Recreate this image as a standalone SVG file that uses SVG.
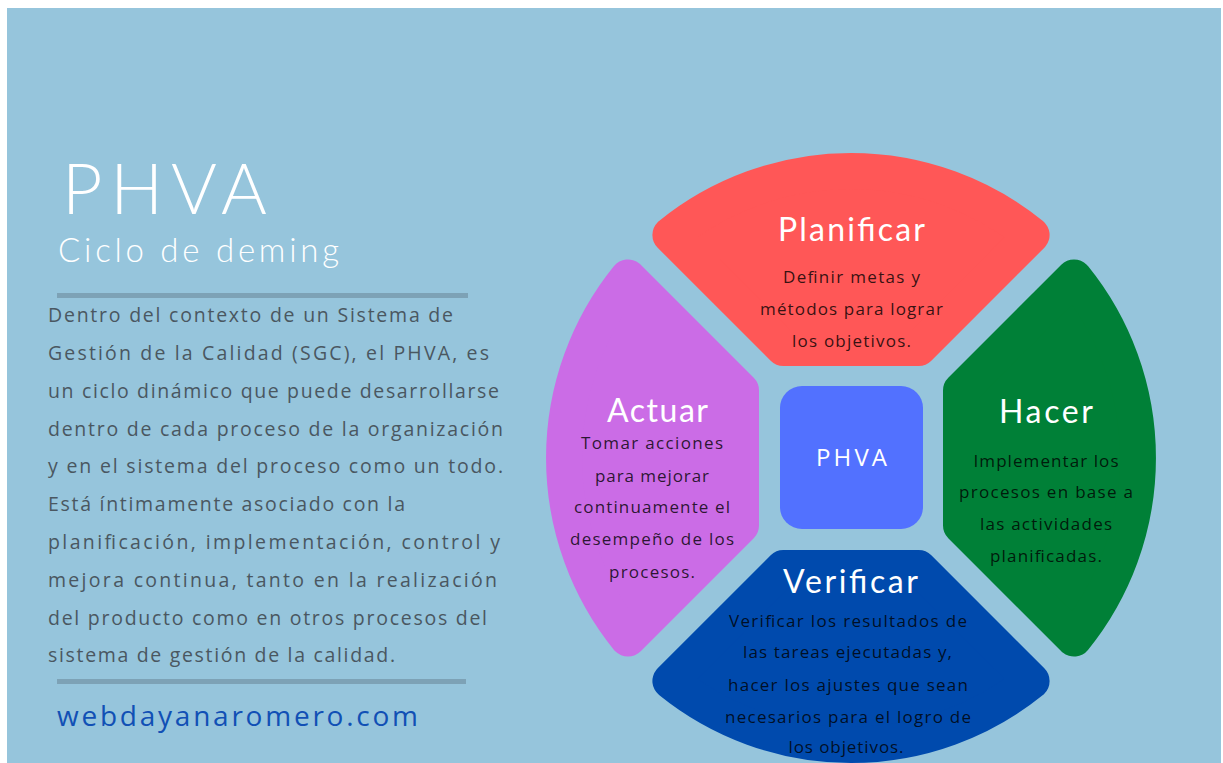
<svg xmlns="http://www.w3.org/2000/svg" xmlns:xlink="http://www.w3.org/1999/xlink" width="1223" height="763" viewBox="0 0 1223 763">
  <style>
    .title { font-family: Lato, "Open Sans", sans-serif; font-weight: 300; fill: #ffffff; }
    .seg-title { font-family: Lato, "Open Sans", sans-serif; font-size: 32px; fill: #ffffff; text-anchor: middle; }
    .seg-body { font-family: "Open Sans", "Noto Sans", sans-serif; font-size: 17px; fill: #000000; fill-opacity: 0.8; text-anchor: middle; }
    .para { font-family: "Open Sans", "Noto Sans", sans-serif; font-size: 19.5px; fill: #4a5761; }
    .rule { fill: #7da2b6; }
    .seg { stroke-width: 36; stroke-linejoin: round; }
  </style>
  <defs>
    <path id="segment" d="M670.4,235 A287,287 0 0 1 1031.6,235 L918.6,348 L783.4,348 Z"/>
  </defs>

  <rect x="0" y="0" width="1223" height="763" fill="#ffffff"/>
  <rect x="7" y="8" width="1214" height="755" fill="#96c5dc"/>

  <g id="heading">
    <text class="title" x="62" y="214" font-size="70" textLength="205">PHVA</text>
    <text class="title" x="58" y="262" font-size="33" textLength="281">Ciclo de deming</text>
    <rect class="rule" x="57" y="293" width="411" height="5"/>
  </g>

  <g id="description">
    <text class="para" x="48" y="322" textLength="405">Dentro del contexto de un Sistema de</text>
    <text class="para" x="48" y="360" textLength="441">Gestión de la Calidad (SGC), el PHVA, es</text>
    <text class="para" x="48" y="398" textLength="451">un ciclo dinámico que puede desarrollarse</text>
    <text class="para" x="48" y="435.5" textLength="455">dentro de cada proceso de la organización</text>
    <text class="para" x="48" y="473" textLength="455">y en el sistema del proceso como un todo.</text>
    <text class="para" x="48" y="511" textLength="357">Está íntimamente asociado con la</text>
    <text class="para" x="48" y="549" textLength="452">planificación, implementación, control y</text>
    <text class="para" x="48" y="587" textLength="449">mejora continua, tanto en la realización</text>
    <text class="para" x="48" y="624.5" textLength="439">del producto como en otros procesos del</text>
    <text class="para" x="48" y="662" textLength="347">sistema de gestión de la calidad.</text>
    <rect class="rule" x="57" y="679" width="409" height="5"/>
    <text x="57" y="726" font-family="'Open Sans', 'Noto Sans', sans-serif" font-size="28" fill="#1150b5" textLength="361">webdayanaromero.com</text>
  </g>

  <g id="planificar">
    <use xlink:href="#segment" class="seg" fill="#ff5757" stroke="#ff5757"/>
    <text class="seg-title" x="851.5" y="241" textLength="147">Planificar</text>
    <text class="seg-body" x="851.5" y="283" textLength="137">Definir metas y</text>
    <text class="seg-body" x="851.5" y="315" textLength="183">métodos para lograr</text>
    <text class="seg-body" x="851.5" y="347" textLength="119">los objetivos.</text>
  </g>

  <g id="hacer">
    <use xlink:href="#segment" class="seg" fill="#008037" stroke="#008037" transform="rotate(90 851 458)"/>
    <text class="seg-title" x="1046" y="423" textLength="94">Hacer</text>
    <text class="seg-body" x="1046" y="467" textLength="145">Implementar los</text>
    <text class="seg-body" x="1046" y="498" textLength="174">procesos en base a</text>
    <text class="seg-body" x="1046" y="530" textLength="132">las actividades</text>
    <text class="seg-body" x="1046" y="562" textLength="112">planificadas.</text>
  </g>

  <g id="verificar">
    <use xlink:href="#segment" class="seg" fill="#004aad" stroke="#004aad" transform="rotate(180 851 458)"/>
    <text class="seg-title" x="850.5" y="593" textLength="135">Verificar</text>
    <text class="seg-body" x="848" y="627" textLength="238">Verificar los resultados de</text>
    <text class="seg-body" x="847.5" y="658" textLength="209">las tareas ejecutadas y,</text>
    <text class="seg-body" x="848" y="691" textLength="240">hacer los ajustes que sean</text>
    <text class="seg-body" x="848" y="723" textLength="246">necesarios para el logro de</text>
    <text class="seg-body" x="846" y="753" textLength="115">los objetivos.</text>
  </g>

  <g id="actuar">
    <use xlink:href="#segment" class="seg" fill="#cb6ce6" stroke="#cb6ce6" transform="rotate(270 851 458)"/>
    <text class="seg-title" x="657.5" y="422" textLength="101">Actuar</text>
    <text class="seg-body" x="652" y="449" textLength="142">Tomar acciones</text>
    <text class="seg-body" x="652" y="482" textLength="114">para mejorar</text>
    <text class="seg-body" x="652" y="513" textLength="156">continuamente el</text>
    <text class="seg-body" x="652" y="545" textLength="164">desempeño de los</text>
    <text class="seg-body" x="652" y="578" textLength="86">procesos.</text>
  </g>

  <g id="center">
    <rect x="780" y="386" width="143" height="143" rx="22" fill="#5271ff"/>
    <text x="851.5" y="466" font-family="'Open Sans', 'Noto Sans', sans-serif" font-size="24" fill="#ffffff" text-anchor="middle" textLength="71">PHVA</text>
  </g>

  <g id="connectors"/>
</svg>
